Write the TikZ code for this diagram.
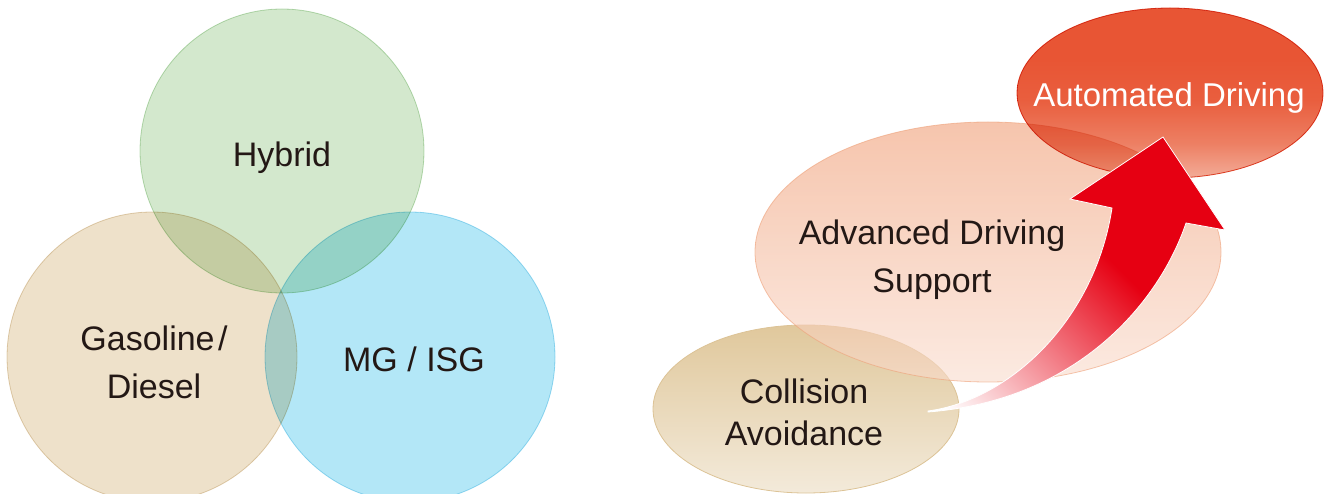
\documentclass[tikz,border=0pt]{standalone}
\usepackage{fontspec}
\setmainfont{Liberation Sans}
\usetikzlibrary{shapes.geometric}
\definecolor{txt}{RGB}{35,24,21}
\definecolor{hybfill}{RGB}{211,232,205}
\definecolor{hybline}{RGB}{190,222,185}
\definecolor{gasfill}{RGB}{238,225,202}
\definecolor{gasline}{RGB}{228,212,185}
\definecolor{mgfill}{RGB}{179,231,247}
\definecolor{mgline}{RGB}{165,222,242}
\definecolor{autotop}{RGB}{232,85,52}
\definecolor{automid}{RGB}{233,94,62}
\definecolor{autolow}{RGB}{237,128,100}
\definecolor{autobot}{RGB}{243,172,152}
\definecolor{autoline}{RGB}{226,74,44}
\definecolor{advtop}{RGB}{240,158,118}
\definecolor{advbot}{RGB}{249,220,205}
\definecolor{advline}{RGB}{238,160,120}
\definecolor{coltop}{RGB}{224,200,156}
\definecolor{colmid}{RGB}{227,205,163}
\definecolor{colbot}{RGB}{243,234,218}
\definecolor{colline}{RGB}{220,195,150}
\definecolor{arrowred}{RGB}{230,0,18}
\pgfdeclarehorizontalshading{arrowshade}{100bp}{color(0bp)=(white); color(17bp)=(white); color(56bp)=(arrowred); color(100bp)=(arrowred)}
\pgfdeclareverticalshading{autoshade}{100bp}{color(0bp)=(autobot); color(25bp)=(autobot); color(35bp)=(autolow); color(48bp)=(automid); color(60bp)=(autotop); color(100bp)=(autotop)}
\tikzset{
  circ/.style={circle, inner sep=0pt, outer sep=0pt, minimum size=#1, line width=0.8pt, blend mode=multiply},
  oval/.style 2 args={ellipse, inner sep=0pt, outer sep=0pt, minimum width=#1, minimum height=#2, line width=0.8pt},
  lbl/.style={text=txt, inner sep=0pt, font=\fontsize{34}{48}\selectfont},
}
\begin{document}
\begin{tikzpicture}[x=1pt,y=-1pt]
\useasboundingbox (0,0) rectangle (1325,494);
\clip (0,0) rectangle (1325,494);
% left Venn
\node[circ=290pt, fill=gasfill, draw=gasline] (gas) at (152,357) {};
\node[circ=290pt, fill=mgfill, draw=mgline] (mg) at (410,357) {};
\node[circ=284pt, fill=hybfill, draw=hybline] (hyb) at (282,151) {};
\node[lbl, anchor=base] (thyb) at (282,167) {Hybrid};
\node[lbl, anchor=base, align=center] (tgas) at (154,398) {Gasoline\hspace{0.1em}/\\Diesel};
\node[lbl, anchor=base] (tmg) at (414,371) {MG / ISG};
% right stages
\node[oval={306pt}{168pt}, top color=coltop, middle color=colmid, bottom color=colbot, draw=colline] (col) at (806,409) {};
\node[oval={466pt}{260pt}, top color=advtop, bottom color=advbot, draw=advline, opacity=0.6] (adv) at (988,252) {};
\node[oval={306pt}{170pt}, shading=autoshade, draw=autoline, blend mode=multiply] (auto) at (1170,93) {};
\node[lbl, anchor=base, text=white, font=\fontsize{33}{40}\selectfont] (tauto) at (1169,107) {Automated Driving};
\node[lbl, anchor=base, align=center] (tadv) at (932,293) {Advanced Driving\\Support};
\node[lbl, anchor=base, align=center, font=\fontsize{34}{42}\selectfont] (tcol) at (804,445) {Collision\\Avoidance};
% arrow
\path[shading=arrowshade, shading angle=45, draw=white, line width=0.8pt, line join=miter]
  (928,411) .. controls (1010,400) and (1095,320) .. (1112,208)
  -- (1070,199) -- (1163,137) -- (1225,230) -- (1186,223)
  .. controls (1160,300) and (1080,400) .. (928,412) -- cycle;
\end{tikzpicture}
\end{document}
